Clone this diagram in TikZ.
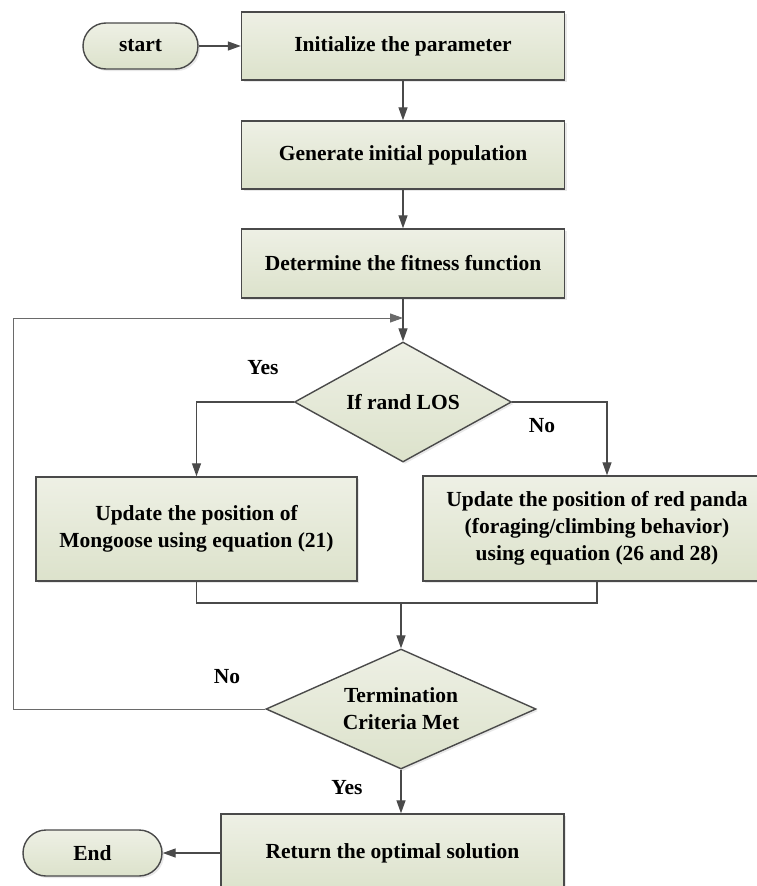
\documentclass[tikz,border=0pt]{standalone}
\usepackage{fontspec}
\setmainfont{Liberation Serif}
\usetikzlibrary{arrows.meta,shapes.geometric,shadows}
\definecolor{boxtop}{HTML}{EEF0E5}
\definecolor{boxbot}{HTML}{DCE2CB}
\definecolor{edgec}{HTML}{4A4A4A}
\definecolor{loopc}{HTML}{6A6A6A}
\tikzset{
  base/.style={draw=edgec, line width=1.4pt, top color=boxtop, bottom color=boxbot,
    drop shadow={opacity=0.18, shadow xshift=2pt, shadow yshift=-2pt},
    inner sep=0pt, align=center},
  procbox/.style={base, rectangle},
  termbox/.style={base, rounded corners=23pt},
  decbox/.style={base, diamond},
  conn/.style={draw=edgec, line width=1.3pt, -{Triangle[length=13pt,width=9pt]}},
  plainline/.style={draw=edgec, line width=1.3pt},
  lbl/.style={inner sep=0pt}
}
\begin{document}
\begin{tikzpicture}[x=1pt,y=-1pt, font=\fontsize{21.5}{27}\selectfont\bfseries]
\clip (0,0) rectangle (757,886);
\node[termbox, minimum width=115pt, minimum height=46pt] (start) at (140.5,46) {start};
\node[procbox, minimum width=323pt, minimum height=68pt] (b1) at (403,46) {Initialize the parameter};
\node[procbox, minimum width=323pt, minimum height=68pt] (b2) at (403,155) {Generate initial population};
\node[procbox, minimum width=323pt, minimum height=69pt] (b3) at (403,263.5) {Determine the fitness function};
\node[decbox, shape aspect=1.8, minimum width=217pt, minimum height=120pt] (d1) at (403,402) {If rand LOS};
\node[procbox, minimum width=321pt, minimum height=104pt] (lb) at (196.5,529) {Update the position of\\Mongoose using equation (21)};
\node[procbox, minimum width=348pt, minimum height=105pt] (rb) at (597,528.5) {Update the position of red panda\\(foraging/climbing behavior)\\using equation (26 and 28)};
\node[decbox, shape aspect=2.25, minimum width=270pt, minimum height=120pt] (d2) at (401,709) {Termination\\Criteria Met};
\node[procbox, minimum width=343pt, minimum height=78pt] (rt) at (392.5,853) {Return the optimal solution};
\node[termbox, minimum width=139pt, minimum height=46pt] (end) at (92.5,853) {End};

\node[lbl] (yes1) at (263,368) {Yes};
\node[lbl] (no1) at (542,426) {No};
\node[lbl] (no2) at (227,677) {No};
\node[lbl] (yes2) at (347,788) {Yes};

\coordinate (loopL) at (13,318);
\coordinate (mrg) at (401,603);

\draw[conn] (start) -- (b1);
\draw[conn] (b1) -- (b2);
\draw[conn] (b2) -- (b3);
\draw[conn] (b3) -- (d1);
\draw[conn, draw=loopc, line width=1pt] (d2.west) -- (d2.west -| loopL) -- (loopL) -- (loopL -| d1.north);
\draw[conn] (d1.west) -| (lb.north);
\draw[conn] (d1.east) -| ([xshift=10pt]rb.north);
\draw[plainline] (lb.south) -- (lb.south |- mrg) -- (rb.south |- mrg) -- (rb.south);
\draw[conn] (d2.north |- mrg) -- (d2.north);
\draw[conn] (d2.south) -- (d2.south |- rt.north);
\draw[conn] (rt.west) -- (end.east);
\end{tikzpicture}
\end{document}
